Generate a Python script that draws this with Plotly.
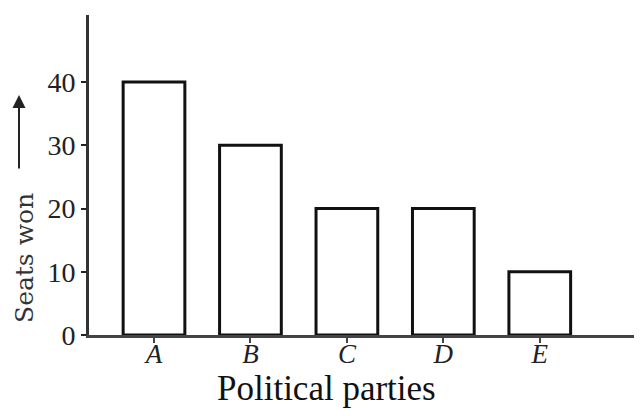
import plotly.graph_objects as go

parties = ["A", "B", "C", "D", "E"]
seats = [40, 30, 20, 20, 10]
y_ticks = [0, 10, 20, 30, 40]
x_title = "Political parties"
y_title = "Seats won"

OFF = 8  # page body margin shifts the figure
W, H = 642 - OFF, 416 - 2 * OFF
x0, top, base, right = 89, 15, 335, 642  # plot area in page pixels
L, T = x0 - OFF, top - OFF
B = H - (base - OFF)
R = W - (right - OFF)
pw, ph = W - L - R, H - T - B

def px_x(p):
    return (p - x0) / pw

def px_y(p):
    return (base - p) / ph

serif = "Liberation Serif"

fig = go.Figure(go.Bar(
    x=list(range(len(parties))), y=seats,
    width=0.64,
    marker=dict(color="white", line=dict(color="#111111", width=3)),
))

fig.update_layout(
    width=W, height=H,
    margin=dict(l=L, r=R, t=T, b=B, pad=0),
    plot_bgcolor="white", paper_bgcolor="white",
    showlegend=False,
    xaxis=dict(
        range=[-0.674, 5.06], showgrid=False, zeroline=False,
        showline=True, linecolor="#444444", linewidth=3,
        tickvals=list(range(len(parties))),
        ticktext=[f"<i>{p}</i>" for p in parties],
        ticks="outside", ticklen=5, tickwidth=2, tickcolor="#444444",
        ticklabelstandoff=-12,
        tickfont=dict(family=serif, size=27, color="#222222"),
    ),
    yaxis=dict(
        range=[0, 50.6], showgrid=False, zeroline=False,
        showline=True, linecolor="#333333", linewidth=3,
        tickvals=y_ticks, ticktext=[str(v) for v in y_ticks],
        ticks="outside", ticklen=5, tickwidth=2, tickcolor="#222222",
        tickfont=dict(family=serif, size=28, color="#222222"),
    ),
    annotations=[
        dict(text=x_title, xref="paper", yref="paper",
             x=px_x(326), y=px_y(388), xanchor="center", yanchor="middle",
             showarrow=False, font=dict(family=serif, size=35, color="#111111")),
        dict(text=y_title, xref="paper", yref="paper",
             x=px_x(24), y=px_y(258), xanchor="center", yanchor="middle",
             textangle=-90, showarrow=False,
             font=dict(family="DejaVu Serif", size=25, color="#333333")),
        dict(text="", xref="paper", yref="paper",
             x=px_x(19), y=px_y(95), ax=0, ay=75,
             showarrow=True, arrowhead=2, arrowsize=1.3, arrowwidth=2,
             arrowcolor="#222222"),
    ],
)

fig.write_html("out.html")
